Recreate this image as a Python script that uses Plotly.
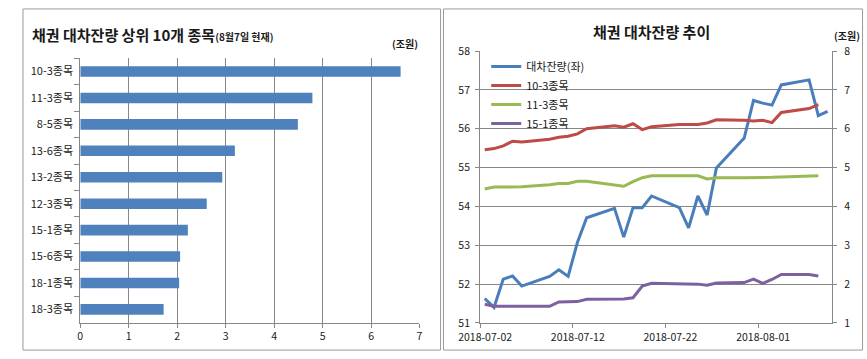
import plotly.graph_objects as go

W, H = 867, 359

# ---- Data: left bar chart ----
bar_categories = ["10-3종목", "11-3종목", "8-5종목", "13-6종목", "13-2종목",
                  "12-3종목", "15-1종목", "15-6종목", "18-1종목", "18-3종목"]
bar_values = [6.61, 4.79, 4.49, 3.19, 2.93, 2.61, 2.22, 2.06, 2.04, 1.72]

# ---- Data: right line chart ----
dates = ["2018-07-02", "2018-07-03", "2018-07-04", "2018-07-05", "2018-07-06",
         "2018-07-09", "2018-07-10", "2018-07-11", "2018-07-12", "2018-07-13",
         "2018-07-16", "2018-07-17", "2018-07-18", "2018-07-19", "2018-07-20",
         "2018-07-23", "2018-07-24", "2018-07-25", "2018-07-26", "2018-07-27",
         "2018-07-30", "2018-07-31", "2018-08-01", "2018-08-02", "2018-08-03",
         "2018-08-06", "2018-08-07", "2018-08-08"]
total_balance = [51.63, 51.40, 52.13, 52.21, 51.95, 52.20, 52.37, 52.20, 53.07, 53.71,
                 53.95, 53.21, 53.97, 53.97, 54.27, 53.97, 53.45, 54.27, 53.78, 54.99,
                 55.76, 56.73, 56.66, 56.61, 57.13, 57.26, 56.34, 56.45]
bond_10_3 = [5.46, 5.49, 5.56, 5.68, 5.66, 5.73, 5.78, 5.81, 5.87, 6.00,
             6.08, 6.04, 6.13, 5.98, 6.05, 6.11, 6.11, 6.11, 6.15, 6.23,
             6.22, 6.20, 6.22, 6.16, 6.42, 6.52, 6.62]
bond_11_3 = [4.45, 4.50, 4.50, 4.51, 4.51, 4.56, 4.59, 4.59, 4.65, 4.65,
             4.55, 4.52, 4.64, 4.74, 4.79, 4.79, 4.79, 4.79, 4.71, 4.74,
             4.74, 4.74, 4.74, 4.75, 4.76, 4.78, 4.79]
bond_15_1 = [1.48, 1.43, 1.43, 1.43, 1.43, 1.43, 1.54, 1.54, 1.55, 1.61,
             1.61, 1.62, 1.65, 1.95, 2.02, 2.00, 2.00, 2.00, 1.97, 2.03,
             2.04, 2.13, 2.02, 2.12, 2.25, 2.25, 2.21]
date_ticks = ["2018-07-02", "2018-07-12", "2018-07-22", "2018-08-01"]

FONT = "Noto Sans CJK KR, Malgun Gothic, sans-serif"
GRID = "#878787"
TXT = "#1a1a1a"


def px_x(x):
    return x / W


def px_y(y):
    return 1 - y / H


fig = go.Figure()

fig.add_trace(go.Bar(
    x=bar_values, y=bar_categories, orientation="h",
    marker=dict(color="#4F81BD", line=dict(width=0)),
    width=0.4, xaxis="x", yaxis="y", showlegend=False,
))

DAY = 86400000
line_specs = [
    ("대차잔량(좌)", total_balance, "#4A7EBB", "y2"),
    ("10-3종목", bond_10_3, "#BE4B48", "y3"),
    ("11-3종목", bond_11_3, "#98B954", "y3"),
    ("15-1종목", bond_15_1, "#7D60A0", "y3"),
]
for name, vals, color, yax in line_specs:
    fig.add_trace(go.Scatter(
        x=dates[:len(vals)], y=vals, name=name, mode="lines",
        line=dict(color=color, width=3),
        xperiod=DAY, xperiodalignment="middle",
        xaxis="x2", yaxis=yax,
    ))

axis_common = dict(
    linecolor=GRID, linewidth=1, gridcolor=GRID, gridwidth=1,
    tickcolor=GRID, zeroline=False,
)
f11 = dict(family=FONT, size=11, color=TXT)
f105 = dict(family=FONT, size=10.5, color=TXT)

fig.update_layout(
    width=W, height=H, autosize=False,
    margin=dict(l=0, r=0, t=0, b=0),
    paper_bgcolor="white", plot_bgcolor="white",
    font=dict(family=FONT, color=TXT),
    xaxis=dict(
        domain=[px_x(60), px_x(409.3)], anchor="y",
        range=[0, 7], dtick=1, showgrid=True, showline=True,
        ticks="outside", ticklen=4, tickfont=f105, **axis_common,
    ),
    yaxis=dict(
        domain=[px_y(328.3), px_y(52.5)], anchor="x",
        type="category", categoryorder="array", categoryarray=bar_categories,
        autorange="reversed", showgrid=False, showline=True,
        ticks="outside", tickson="boundaries", ticklen=5,
        ticklabelstandoff=4, tickfont=f11, **axis_common,
    ),
    xaxis2=dict(
        domain=[px_x(471.7), px_x(834.3)], anchor="y2",
        type="date", range=["2018-07-02", "2018-08-09"],
        tickmode="array", tickvals=date_ticks, tickformat="%Y-%m-%d",
        ticklabelshift=5,
        showgrid=False, showline=True, ticks="outside", ticklen=4,
        tickfont=f105, **axis_common,
    ),
    yaxis2=dict(
        domain=[px_y(328.7), px_y(45)], anchor="x2",
        range=[51, 58], dtick=1, showgrid=True, showline=True,
        ticks="outside", ticklen=4, ticklabelstandoff=3,
        tickfont=f105, **axis_common,
    ),
    yaxis3=dict(
        overlaying="y2", anchor="x2", side="right",
        range=[1, 8], dtick=1, showgrid=False, showline=True,
        ticks="outside", ticklen=4, ticklabelstandoff=5,
        tickfont=f105, **axis_common,
    ),
    legend=dict(
        x=px_x(478), y=px_y(46), xanchor="left", yanchor="top",
        bgcolor="rgba(0,0,0,0)", borderwidth=0,
        font=f11, tracegroupgap=0,
    ),
    annotations=[
        dict(text="<b>채권 대차잔량 상위 10개 종목</b><span style='font-size:10px'><b>(8월7일 현재)</b></span>",
             x=px_x(8), y=px_y(28), xref="paper", yref="paper",
             xanchor="left", yanchor="middle", showarrow=False,
             font=dict(family=FONT, size=15, color=TXT)),
        dict(text="<b>(조원)</b>", x=px_x(394), y=px_y(37.5), xref="paper", yref="paper",
             xanchor="center", yanchor="middle", showarrow=False,
             font=dict(family=FONT, size=10, color=TXT)),
        dict(text="<b>채권 대차잔량 추이</b>", x=px_x(648), y=px_y(25), xref="paper", yref="paper",
             xanchor="center", yanchor="middle", showarrow=False,
             font=dict(family=FONT, size=15, color=TXT)),
        dict(text="<b>(조원)</b>", x=px_x(849), y=px_y(29), xref="paper", yref="paper",
             xanchor="center", yanchor="middle", showarrow=False,
             font=dict(family=FONT, size=10, color=TXT)),
    ],
    shapes=[
        dict(type="rect", xref="paper", yref="paper",
             x0=px_x(1), x1=px_x(431), y0=px_y(357), y1=px_y(1),
             line=dict(color="#9a9a9a", width=1), fillcolor="rgba(0,0,0,0)"),
        dict(type="rect", xref="paper", yref="paper",
             x0=px_x(434), x1=px_x(865.5), y0=px_y(357), y1=px_y(1),
             line=dict(color="#9a9a9a", width=1), fillcolor="rgba(0,0,0,0)"),
    ],
)

fig.write_html(
    "out.html",
    config={"responsive": False, "displayModeBar": False},
    post_script="document.body.style.margin='0';document.body.style.padding='0';"
                "document.body.style.overflow='hidden';",
)
